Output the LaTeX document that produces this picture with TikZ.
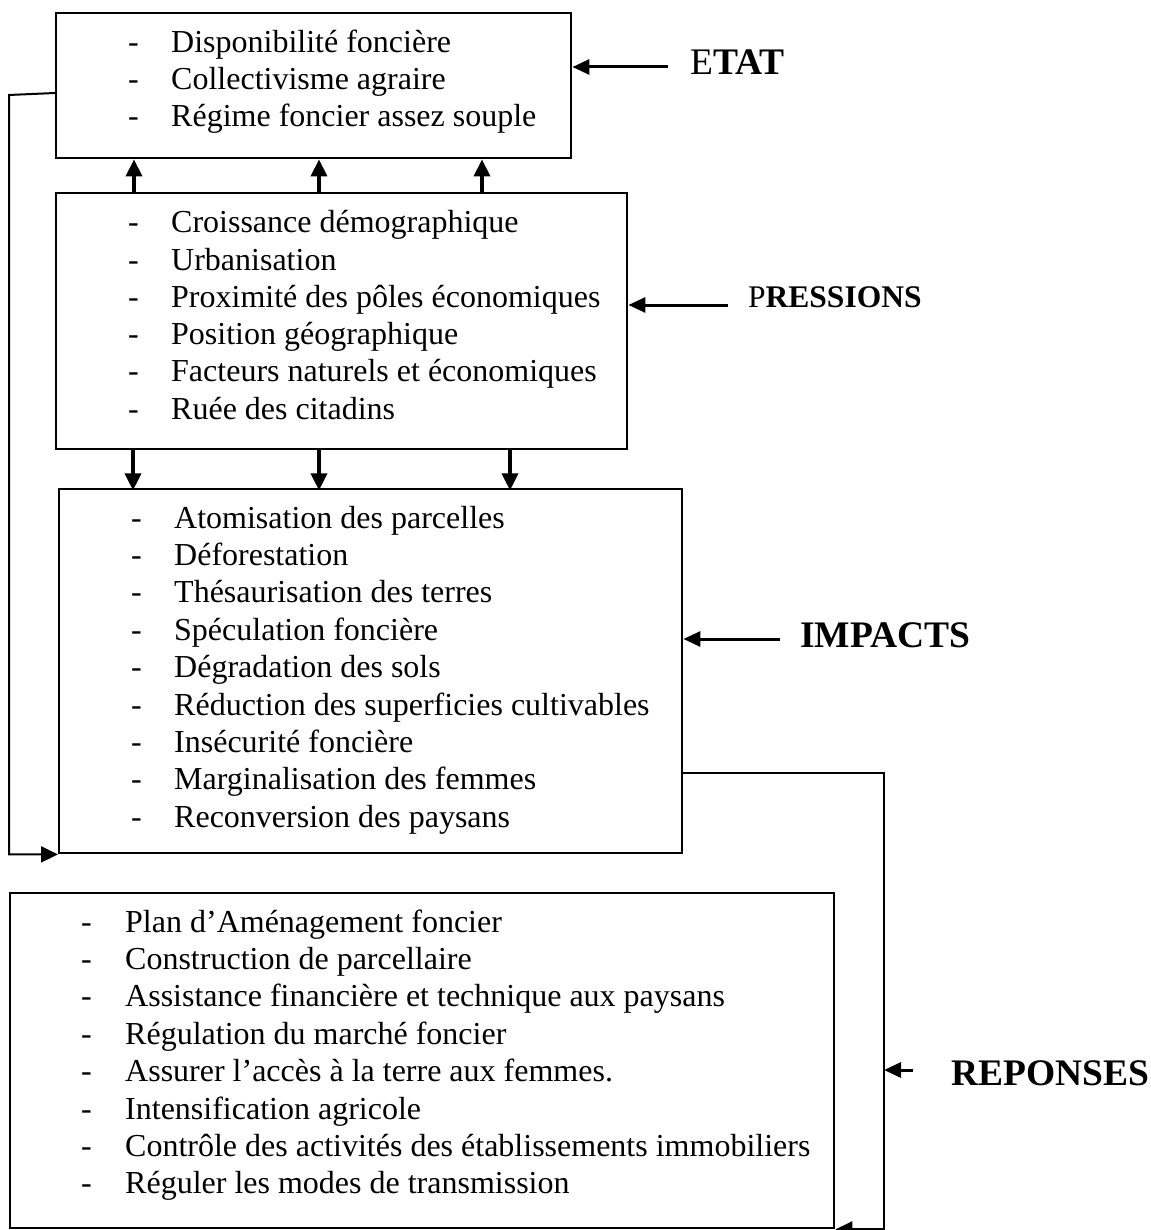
\documentclass[tikz,border=0pt]{standalone}
\usepackage{fontspec}
\setmainfont{Liberation Serif}
\usetikzlibrary{arrows.meta,calc}
\begin{document}
\begin{tikzpicture}[x=1pt,y=-1pt,
  box/.style={draw, line width=2.4pt, inner sep=0pt, anchor=north west},
  item/.style={anchor=base west, inner sep=0pt, font=\fontsize{32}{37}\selectfont},
  lbl/.style={anchor=base west, inner sep=0pt, font=\fontsize{37.5}{40}\selectfont},
  lblsmall/.style={anchor=base west, inner sep=0pt, font=\fontsize{31.5}{36}\selectfont},
  vflow/.style={line width=3.5pt, -{Triangle[length=17pt,width=16pt]}},
  larr/.style={line width=3pt, -{Triangle[length=17pt,width=15pt]}},
  conn/.style={line width=2pt, -{Triangle[length=17pt,width=16pt]}},
]
\useasboundingbox (0,0) rectangle (1150,1230);

% boxes
\node[box, minimum width=515pt, minimum height=145pt] (etat) at (55,12) {};
\node[box, minimum width=571pt, minimum height=256pt] (pres) at (55,192) {};
\node[box, minimum width=623pt, minimum height=364pt] (imp) at (58,488) {};
\node[box, minimum width=824pt, minimum height=335pt] (rep) at (9,892) {};

% ETAT items
\foreach \t [count=\i] in {Disponibilité foncière, Collectivisme agraire, Régime foncier assez souple} {
  \node[item] (etat-d\i) at (128,{53+37*(\i-1)}) {-};
  \node[item] (etat-t\i) at (171,{53+37*(\i-1)}) {\t};
}
% PRESSIONS items
\foreach \t [count=\i] in {Croissance démographique, Urbanisation, Proximité des pôles économiques, Position géographique, Facteurs naturels et économiques, Ruée des citadins} {
  \node[item] (pres-d\i) at (128,{233+37.2*(\i-1)}) {-};
  \node[item] (pres-t\i) at (171,{233+37.2*(\i-1)}) {\t};
}
% IMPACTS items
\foreach \t [count=\i] in {Atomisation des parcelles, Déforestation, Thésaurisation des terres, Spéculation foncière, Dégradation des sols, Réduction des superficies cultivables, Insécurité foncière, Marginalisation des femmes, Reconversion des paysans} {
  \node[item] (imp-d\i) at (131,{528+37.4*(\i-1)}) {-};
  \node[item] (imp-t\i) at (174,{528+37.4*(\i-1)}) {\t};
}
% REPONSES items
\foreach \t [count=\i] in {Plan d’Aménagement foncier, Construction de parcellaire, Assistance financière et technique aux paysans, Régulation du marché foncier, Assurer l’accès à la terre aux femmes., Intensification agricole, Contrôle des activités des établissements immobiliers, Réguler les modes de transmission} {
  \node[item] (rep-d\i) at (81,{932+37.4*(\i-1)}) {-};
  \node[item] (rep-t\i) at (125,{932+37.4*(\i-1)}) {\t};
}

% arrows PRESSIONS -> ETAT
\foreach \dx in {79,264,427} {
  \draw[vflow] ($(pres.north west)+(\dx,0)$) -- ($(etat.south west)+(\dx,0)$);
}
% arrows PRESSIONS -> IMPACTS
\foreach \dx in {78,264,455} {
  \draw[vflow] ($(pres.south west)+(\dx,0)$) -- ($(pres.south west)+(\dx,40)$);
}

% left feedback connector
\coordinate (lcol) at (9,95);
\draw[conn] ($(etat.north west)+(0,81)$) -- (lcol) |- (imp.south west);

% right connector
\coordinate (rcol) at (884,1000);
\draw[conn] ($(imp.north east)+(0,285)$) -| (rcol) |- (rep.south east);

% labels
\node[lbl] (etatlbl) at (690,75) {E\textbf{TAT}};
\coordinate (etattail) at (668,67);
\draw[larr] (etattail) -- (etat.east |- etattail);

\node[lblsmall] (preslbl) at (748,308) {P\textbf{RESSIONS}};
\coordinate (prestail) at (728,305);
\draw[larr] (prestail) -- (pres.east |- prestail);

\node[lbl] (implbl) at (800,647) {\textbf{IMPACTS}};
\coordinate (imptail) at (780,639);
\draw[larr] (imptail) -- (imp.east |- imptail);

\node[lbl] (replbl) at (951,1085) {\textbf{REPONSES}};
\coordinate (reptail) at (913,1070);
\draw[larr] (reptail) -- (rcol |- reptail);
\end{tikzpicture}
\end{document}
